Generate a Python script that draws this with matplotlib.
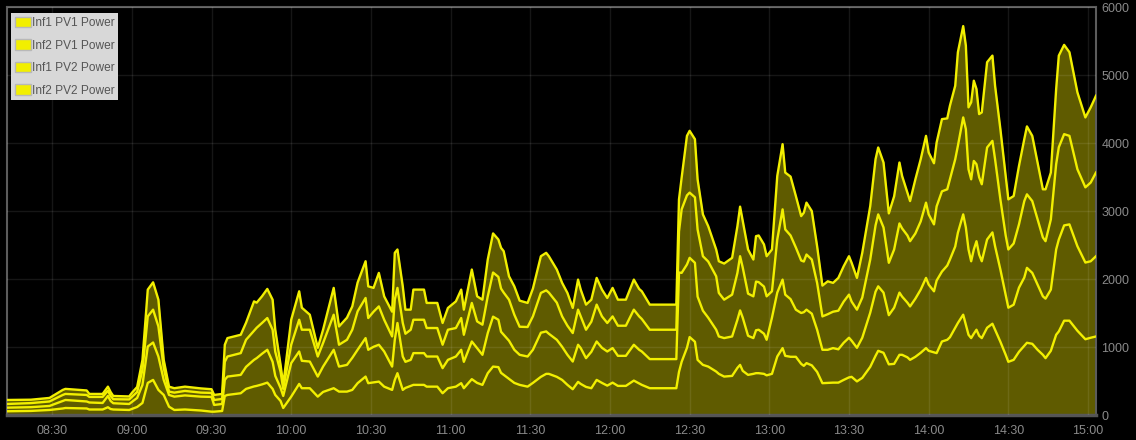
import matplotlib
matplotlib.use("Agg")
import matplotlib.pyplot as plt
import matplotlib.dates as mdates
from matplotlib.patches import Patch
import numpy as np
import pandas as pd

plt.rcParams['font.family'] = ['Liberation Sans', 'DejaVu Sans']

# sample times (one day, local time)
times = [
    "08:13", "08:22", "08:29", "08:34", "08:35", "08:43", "08:44", "08:49", "08:51", "08:52",
    "08:53", "08:59", "09:00", "09:02", "09:04", "09:06", "09:08", "09:10", "09:12", "09:14",
    "09:16", "09:20", "09:26", "09:30", "09:31", "09:34", "09:35", "09:36", "09:41", "09:43",
    "09:46", "09:47", "09:49", "09:51", "09:53", "09:54", "09:56", "09:57", "10:00", "10:03",
    "10:04", "10:07", "10:10", "10:12", "10:16", "10:18", "10:21", "10:23", "10:25", "10:28",
    "10:29", "10:31", "10:33", "10:35", "10:38", "10:39", "10:40", "10:42", "10:43", "10:45",
    "10:46", "10:50", "10:51", "10:55", "10:57", "10:59", "11:02", "11:04", "11:05", "11:08",
    "11:10", "11:12", "11:14", "11:16", "11:18", "11:19", "11:20", "11:22", "11:24", "11:26",
    "11:29", "11:31", "11:34", "11:36", "11:37", "11:40", "11:42", "11:44", "11:46", "11:48",
    "11:49", "11:51", "11:53", "11:55", "11:57", "11:59", "12:01", "12:03", "12:06", "12:09",
    "12:11", "12:12", "12:15", "12:25", "12:26", "12:27", "12:29", "12:30", "12:32", "12:33",
    "12:35", "12:37", "12:40", "12:41", "12:43", "12:46", "12:48", "12:49", "12:50", "12:52",
    "12:54", "12:55", "12:56", "12:58", "12:59", "13:01", "13:03", "13:05", "13:06", "13:08",
    "13:10", "13:12", "13:13", "13:14", "13:16", "13:18", "13:20", "13:22", "13:24", "13:26",
    "13:28", "13:30", "13:31", "13:33", "13:35", "13:38", "13:40", "13:41", "13:43", "13:45",
    "13:47", "13:49", "13:50", "13:52", "13:53", "13:55", "13:57", "13:59", "14:00", "14:02",
    "14:03", "14:05", "14:07", "14:08", "14:10", "14:11", "14:13", "14:14", "14:15", "14:16",
    "14:17", "14:18", "14:19", "14:20", "14:22", "14:24", "14:25", "14:27", "14:29", "14:30",
    "14:32", "14:34", "14:36", "14:37", "14:39", "14:41", "14:43", "14:44", "14:46", "14:48",
    "14:49", "14:51", "14:53", "14:56", "14:59", "15:01", "15:03",
]

# power in W, one list per string
inf1_pv1 = [
    55, 60, 74, 96, 103, 96, 81, 81, 114, 88,
    81, 74, 89, 118, 177, 472, 516, 369, 295, 122,
    74, 81, 66, 49, 49, 59, 280, 295, 320, 384,
    420, 428, 450, 476, 384, 295, 206, 103, 270, 457,
    394, 394, 270, 339, 394, 344, 344, 369, 468, 565,
    468, 479, 491, 417, 369, 516, 615, 369, 398, 428,
    443, 443, 417, 417, 320, 394, 417, 468, 394, 527,
    472, 443, 615, 712, 704, 620, 590, 531, 472, 443,
    417, 472, 561, 605, 605, 561, 516, 443, 379, 487,
    457, 413, 394, 516, 472, 432, 476, 428, 428, 506,
    465, 443, 394, 394, 634, 782, 988, 1146, 1077, 811,
    737, 712, 639, 605, 565, 575, 693, 737, 649, 590,
    605, 615, 615, 605, 583, 605, 860, 984, 870, 856,
    856, 752, 723, 763, 730, 634, 468, 472, 476, 476,
    516, 553, 561, 494, 546, 708, 870, 944, 915, 745,
    752, 885, 885, 848, 811, 856, 915, 984, 944, 922,
    910, 1081, 1106, 1143, 1283, 1353, 1475, 1328, 1180, 1131,
    1195, 1254, 1165, 1131, 1283, 1342, 1254, 1077, 885, 782,
    811, 929, 1018, 1062, 1047, 959, 885, 836, 944, 1180,
    1229, 1387, 1387, 1239, 1114, 1136, 1155,
]
inf2_pv1 = [
    53, 55, 59, 111, 118, 103, 103, 96, 166, 119,
    92, 88, 103, 133, 266, 535, 550, 491, 221, 173,
    196, 207, 204, 217, 99, 103, 236, 270, 270, 324,
    391, 408, 450, 483, 398, 280, 192, 177, 493, 477,
    403, 392, 295, 373, 565, 368, 393, 472, 491, 566,
    491, 524, 542, 517, 343, 590, 738, 491, 384, 383,
    467, 467, 443, 443, 369, 417, 443, 491, 388, 554,
    512, 442, 590, 734, 697, 604, 590, 561, 487, 442,
    443, 487, 649, 624, 590, 545, 487, 442, 407, 546,
    527, 423, 535, 565, 516, 502, 508, 442, 442, 527,
    494, 491, 428, 428, 1461, 1308, 1225, 1165, 1161, 930,
    797, 719, 615, 550, 566, 580, 708, 801, 782, 575,
    526, 631, 639, 590, 523, 826, 940, 1007, 900, 848,
    693, 748, 789, 786, 760, 620, 491, 487, 508, 490,
    546, 583, 531, 494, 590, 797, 944, 948, 885, 723,
    826, 915, 856, 804, 786, 855, 929, 1032, 974, 897,
    1067, 1028, 1092, 1143, 1195, 1327, 1475, 1430, 1254, 1130,
    1239, 1302, 1195, 1130, 1298, 1343, 1228, 1062, 885, 796,
    811, 944, 1003, 1102, 1043, 959, 860, 875, 900, 1254,
    1352, 1401, 1416, 1243, 1128, 1125, 1180,
]
inf1_pv2 = [
    54, 60, 66, 88, 89, 96, 82, 89, 78, 73,
    59, 67, 74, 88, 221, 443, 483, 442, 177, 49,
    59, 66, 59, 59, 73, 74, 266, 295, 320, 398,
    428, 447, 453, 467, 472, 354, 236, 104, 270, 467,
    457, 468, 295, 346, 516, 321, 369, 413, 565, 590,
    467, 516, 564, 467, 443, 590, 516, 493, 413, 443,
    491, 491, 419, 419, 344, 443, 419, 467, 398, 567,
    392, 443, 540, 649, 630, 635, 620, 604, 516, 413,
    434, 491, 585, 604, 605, 546, 447, 428, 419, 516,
    466, 418, 443, 542, 462, 419, 466, 443, 443, 516,
    491, 478, 432, 432, 604, 934, 1017, 959, 963, 988,
    801, 826, 786, 640, 565, 615, 689, 797, 737, 620,
    614, 716, 700, 693, 639, 388, 781, 1033, 959, 936,
    914, 772, 745, 811, 796, 689, 491, 523, 535, 568,
    605, 634, 575, 561, 590, 781, 974, 1058, 958, 770,
    856, 1017, 1003, 988, 959, 959, 1003, 1107, 1032, 984,
    1091, 1180, 1121, 1180, 1283, 1277, 1426, 1446, 1180, 1205,
    1302, 1132, 1136, 1132, 1353, 1346, 1279, 1032, 870, 856,
    900, 930, 1125, 1081, 1056, 958, 866, 845, 1032, 1254,
    1357, 1342, 1302, 1132, 1106, 1157, 1230,
]
inf2_pv2 = [
    59, 50, 52, 74, 74, 66, 44, 44, 59, 59,
    48, 44, 59, 74, 147, 394, 402, 394, 118, 73,
    65, 63, 62, 54, 74, 74, 251, 271, 270, 251,
    432, 369, 392, 428, 442, 325, 103, 59, 368, 418,
    324, 221, 128, 196, 394, 269, 325, 343, 423, 540,
    466, 350, 493, 344, 364, 689, 565, 539, 354, 295,
    443, 443, 369, 369, 320, 320, 392, 418, 369, 491,
    369, 368, 541, 575, 550, 600, 609, 344, 417, 384,
    354, 409, 540, 552, 535, 487, 493, 482, 369, 442,
    394, 369, 324, 393, 394, 368, 419, 383, 383, 442,
    404, 407, 369, 369, 472, 467, 875, 909, 855, 737,
    615, 520, 394, 466, 531, 541, 687, 729, 683, 649,
    541, 668, 686, 620, 590, 615, 934, 959, 836, 866,
    757, 653, 718, 763, 713, 539, 453, 484, 424, 482,
    520, 565, 571, 467, 659, 786, 973, 984, 955, 727,
    782, 896, 771, 630, 590, 796, 914, 982, 910, 899,
    940, 1062, 1043, 1081, 1081, 1378, 1343, 1228, 910, 1132,
    1180, 1106, 929, 1057, 1254, 1254, 1081, 1033, 875, 737,
    698, 859, 910, 999, 959, 837, 708, 763, 689, 1106,
    1347, 1313, 1230, 1131, 1028, 1106, 1130,
]
labels = ["Inf1 PV1 Power", "Inf2 PV1 Power", "Inf1 PV2 Power", "Inf2 PV2 Power"]

LINE = '#f2ef00'
FILL = '#5f5b00'

t = pd.to_datetime(["2024-06-01 " + s for s in times])
layers = np.vstack([inf1_pv1, inf2_pv1, inf1_pv2, inf2_pv2])
tops = np.cumsum(layers, axis=0)

fig = plt.figure(figsize=(11.36, 4.4), dpi=100, facecolor='black')
ax = fig.add_axes([7 / 1136, 25 / 440, 1089 / 1136, 408 / 440])
ax.set_facecolor('black')

ax.stackplot(t, layers, colors=[FILL] * 4, edgecolor=FILL, linewidth=0.5, zorder=1)
for top in tops:
    ax.plot(t, top, color=LINE, lw=1.7, zorder=3, solid_joinstyle='round')

ax.set_xlim(t[0], t[-1])
ax.set_ylim(0, 6000)
ax.yaxis.tick_right()
ax.set_yticks(range(0, 6001, 1000))
ax.xaxis.set_major_locator(mdates.MinuteLocator(byminute=[0, 30]))
ax.xaxis.set_major_formatter(mdates.DateFormatter('%H:%M'))
ax.tick_params(length=0, colors='#8a8a8a', labelsize=9)
ax.tick_params(axis='x', pad=7)
ax.tick_params(axis='y', pad=4)
ax.set_axisbelow(False)
ax.grid(True, color='white', alpha=0.09, lw=1)

for side in ['left', 'top', 'right']:
    ax.spines[side].set_color('#5c5c5c')
    ax.spines[side].set_linewidth(1.5)
ax.spines['bottom'].set_color('#555555')
ax.spines['bottom'].set_linewidth(2.5)

handles = [Patch(facecolor='#f2ef00', edgecolor='#b8b8b8', lw=1) for _ in labels]
leg = ax.legend(handles, labels, loc='upper left', bbox_to_anchor=(4 / 1089, 1 - 6 / 408),
                borderaxespad=0, fontsize=8.6, frameon=True, fancybox=False,
                facecolor='#d8d8d8', edgecolor='none', framealpha=1,
                handlelength=1.35, handleheight=1.0, handletextpad=0.12,
                borderpad=0.3, labelspacing=0.85, labelcolor='#555555')
leg.set_zorder(5)

fig.savefig('out.png', dpi=100, facecolor='black')
